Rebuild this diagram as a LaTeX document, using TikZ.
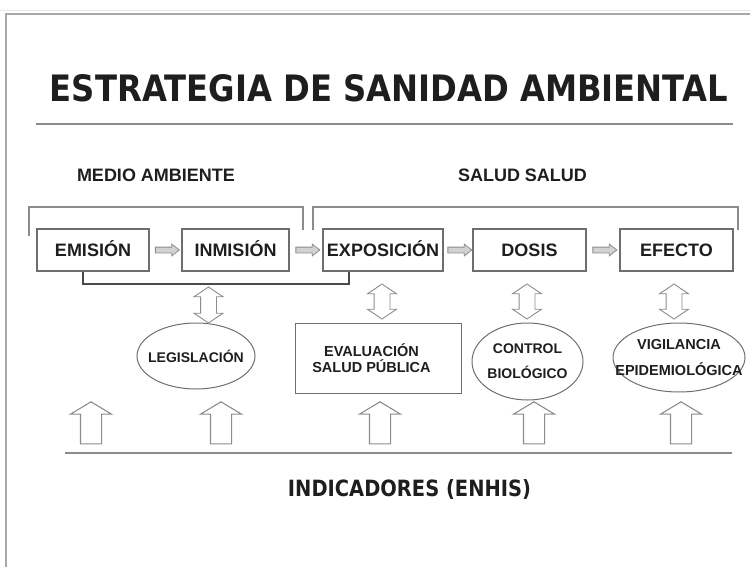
\documentclass[tikz,border=0pt]{standalone}
\usepackage{fontspec}
\setmainfont{Liberation Sans}
\newfontfamily\headfont{DejaVu Sans}
\usetikzlibrary{shapes.geometric,shapes.arrows,calc}
\definecolor{ink}{HTML}{1E1E1E}
\definecolor{boxline}{HTML}{6E6E6E}
\definecolor{softline}{HTML}{8C8C8C}
\definecolor{darkline}{HTML}{4A4A4A}
\definecolor{arrfill}{HTML}{D2D2D2}
\definecolor{frameline}{HTML}{A8A8A8}
\begin{document}
\begin{tikzpicture}[x=1pt,y=-1pt,
  lab/.style={text=ink,font=\bfseries\fontsize{18}{20}\selectfont},
  stage/.style={lab,draw=boxline,line width=1.1pt,minimum height=42pt,inner sep=0pt,text height=13pt,text depth=0pt},
  smalltext/.style={text=ink,font=\bfseries\fontsize{14}{16}\selectfont,align=center,inner sep=0pt},
  oval/.style={ellipse,draw=boxline,line width=1pt,inner sep=0pt},
  flowarrow/.style={single arrow,draw=softline,fill=arrfill,line width=0.8pt,minimum height=24pt,minimum width=11pt,single arrow head extend=3pt,single arrow tip angle=76,inner xsep=0pt,inner ysep=2.5pt},
  linkarrow/.style={double arrow,draw=softline,fill=white,line width=0.9pt,minimum width=28pt,double arrow head extend=6.5pt,double arrow tip angle=112,inner xsep=0pt,inner ysep=7.5pt,rotate=90},
  uparrow/.style={single arrow,draw=softline,fill=white,line width=1.1pt,minimum height=42pt,minimum width=40pt,single arrow head extend=10pt,single arrow tip angle=118,inner xsep=0pt,inner ysep=10pt,rotate=90},
  bracket/.style={draw=softline,line width=1.1pt},
]
\useasboundingbox (0,0) rectangle (750,567);
% slide frame
\coordinate (fA) at (6,567);
\coordinate (fB) at (6,14);
\coordinate (fC) at (750,14);
\draw[frameline,line width=1.3pt] (fA) -- (fB) -- (fC);
\coordinate (fD) at (0,10);
\coordinate (fE) at (750,10);
\draw[gray!18,line width=0.8pt] (fD) -- (fE);

% title
\node[anchor=base,inner sep=0pt,text=ink] (title) at (389,102) {\resizebox{678pt}{27pt}{\headfont\bfseries ESTRATEGIA DE SANIDAD AMBIENTAL}};
\coordinate (rL) at (36,124);
\coordinate (rR) at (733,124);
\draw[softline,line width=1.2pt] (rL) -- (rR);

% headings
\node[lab,anchor=base,inner sep=0pt] (medio) at (156,182) {MEDIO AMBIENTE};
\node[lab,anchor=base,inner sep=0pt] (salud) at (522.5,182) {SALUD SALUD};

% stages
\node[stage,minimum width=112pt] (emi) at (93,250) {EMISIÓN};
\node[stage,minimum width=107pt] (inm) at (235.5,250) {INMISIÓN};
\node[stage,minimum width=120pt] (exp) at (383,250) {EXPOSICIÓN};
\node[stage,minimum width=113pt] (dos) at (529.5,250) {DOSIS};
\node[stage,minimum width=113pt] (efe) at (676.5,250) {EFECTO};

% flow arrows
\node[flowarrow] (a1) at ($(emi.east)!0.5!(inm.west)$) {};
\node[flowarrow] (a2) at ($(inm.east)!0.5!(exp.west)$) {};
\node[flowarrow] (a3) at ($(exp.east)!0.5!(dos.west)$) {};
\node[flowarrow] (a4) at ($(dos.east)!0.5!(efe.west)$) {};

% top brackets
\coordinate (b1) at (29,236);
\coordinate (b2) at (303,207);
\coordinate (b3) at (303,230);
\draw[bracket] (b1) |- (b2) -- (b3);
\coordinate (c1) at (313,230);
\coordinate (c2) at (738,207);
\coordinate (c3) at (738,230);
\draw[bracket] (c1) |- (c2) -- (c3);

% bottom bracket
\draw[darkline,line width=2pt] ($(emi.south)+(-10,0)$) -- ++(0,12) -| ($(exp.south)+(-34,0)$);

% lower elements
\node[oval,minimum width=118pt,minimum height=66pt,label={[smalltext]center:LEGISLACIÓN}] (leg) at (196,356) {};
\node[draw=boxline,line width=1pt,minimum width=166pt,minimum height=70pt,inner sep=0pt,
      label={[smalltext,font=\bfseries\fontsize{14.5}{15.5}\selectfont,xshift=-7pt]center:EVALUACIÓN\\SALUD PÚBLICA}] (eva) at (378.5,358) {};
\node[oval,minimum width=111pt,minimum height=77pt,label={[smalltext]center:CONTROL\\[9pt]BIOLÓGICO}] (ctl) at (527.5,361.5) {};
\node[oval,minimum width=132pt,minimum height=69pt,label={[smalltext,font=\bfseries\fontsize{14.5}{16}\selectfont]center:VIGILANCIA\\[10pt]EPIDEMIOLÓGICA}] (vig) at (679,357.5) {};

% double arrows
\node[linkarrow,minimum height=36pt] (d1) at (208.5,305) {};
\node[linkarrow,minimum height=35pt] (d2) at (382,301.5) {};
\node[linkarrow,minimum height=35pt] (d3) at (527,301.5) {};
\node[linkarrow,minimum height=35pt] (d4) at (674,301.5) {};

% indicator arrows
\node[uparrow] (u1) at (91,426) {};
\node[uparrow] (u2) at (221,426) {};
\node[uparrow] (u3) at (380,426) {};
\node[uparrow] (u4) at (534,426) {};
\node[uparrow] (u5) at (681,426) {};
\coordinate (gL) at (65,453);
\coordinate (gR) at (732,453);
\draw[softline,line width=1.3pt] (gL) -- (gR);

\node[anchor=base,inner sep=0pt,text=ink] (ind) at (409.5,496) {\resizebox{243pt}{17pt}{\headfont\bfseries INDICADORES (ENHIS)}};
\end{tikzpicture}
\end{document}
